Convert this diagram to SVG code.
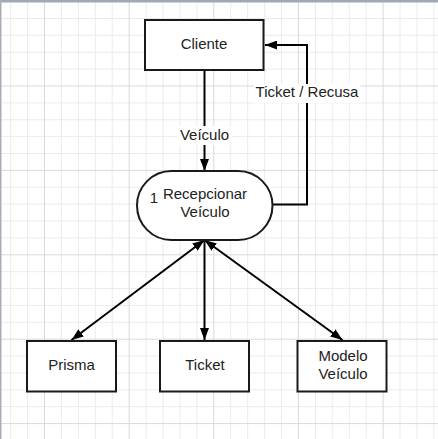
<svg xmlns="http://www.w3.org/2000/svg" width="438" height="439" viewBox="0 0 438 439">
  <style>
    .box { fill: #ffffff; stroke: #1a1a1a; stroke-width: 2; }
    .lbl { font-family: "Liberation Sans", Arial, sans-serif; font-size: 15px; fill: #222222; text-anchor: middle; }
    .edge { fill: none; stroke: #000000; stroke-width: 2; }
    .mn { stroke: #ebebeb; stroke-width: 1; }
    .mj { stroke: #d9d9d9; stroke-width: 1; }
  </style>
  <defs>
    <pattern id="grid" patternUnits="userSpaceOnUse" x="44" y="85.5" width="84.65" height="84.4">
      <line class="mn" x1="17.43" y1="0" x2="17.43" y2="84.4"/>
      <line class="mn" x1="34.36" y1="0" x2="34.36" y2="84.4"/>
      <line class="mn" x1="51.29" y1="0" x2="51.29" y2="84.4"/>
      <line class="mn" x1="68.22" y1="0" x2="68.22" y2="84.4"/>
      <line class="mn" x1="0" y1="17.38" x2="84.65" y2="17.38"/>
      <line class="mn" x1="0" y1="34.26" x2="84.65" y2="34.26"/>
      <line class="mn" x1="0" y1="51.14" x2="84.65" y2="51.14"/>
      <line class="mn" x1="0" y1="68.02" x2="84.65" y2="68.02"/>
      <line class="mj" x1="0.5" y1="0" x2="0.5" y2="84.4"/>
      <line class="mj" x1="0" y1="0.5" x2="84.65" y2="0.5"/>
    </pattern>
    <marker id="arr" viewBox="0 0 12 9" refX="12" refY="4.5" markerWidth="12" markerHeight="9" markerUnits="userSpaceOnUse" orient="auto-start-reverse">
      <path d="M0,0 L12,4.5 L0,9 z" fill="#000000"/>
    </marker>
  </defs>

  <rect x="0" y="0" width="438" height="439" fill="#ffffff"/>
  <rect x="0" y="0" width="438" height="439" fill="url(#grid)"/>
  <rect x="0" y="0" width="438" height="2.5" fill="#a0a8b3"/>
  <rect x="0" y="0" width="1.5" height="439" fill="#a7aeb8"/>

  <g id="connectors">
    <line class="edge" x1="204.5" y1="71" x2="204.5" y2="171" marker-end="url(#arr)"/>
    <rect x="177" y="126" width="55" height="19" fill="#ffffff"/>
    <text class="lbl" x="204.5" y="140">Veículo</text>

    <polyline class="edge" points="273,204.5 307,204.5 307,45 265,45" marker-end="url(#arr)"/>
    <rect x="254" y="84" width="106" height="19" fill="#ffffff"/>
    <text class="lbl" x="307" y="97">Ticket / Recusa</text>

    <line class="edge" x1="204.5" y1="240" x2="71.5" y2="340" marker-start="url(#arr)" marker-end="url(#arr)"/>
    <line class="edge" x1="204.5" y1="240" x2="204.5" y2="340" marker-end="url(#arr)"/>
    <line class="edge" x1="204.5" y1="240" x2="342.5" y2="340" marker-start="url(#arr)" marker-end="url(#arr)"/>
  </g>

  <g id="cliente">
    <rect class="box" x="145" y="20" width="118.5" height="50"/>
    <text class="lbl" x="204" y="49">Cliente</text>
  </g>

  <g id="recepcionar">
    <rect class="box" x="137" y="171" width="135.5" height="69" rx="34.5" ry="34.5"/>
    <text class="lbl" x="154" y="203">1</text>
    <text class="lbl" x="205" y="199">Recepcionar</text>
    <text class="lbl" x="205" y="217">Veículo</text>
  </g>

  <g id="prisma">
    <rect class="box" x="27" y="341" width="89" height="50.5"/>
    <text class="lbl" x="71.5" y="370">Prisma</text>
  </g>

  <g id="ticket">
    <rect class="box" x="160" y="341" width="89" height="50.5"/>
    <text class="lbl" x="205" y="370">Ticket</text>
  </g>

  <g id="modelo">
    <rect class="box" x="297.5" y="341" width="89" height="50.5"/>
    <text class="lbl" x="343" y="361">Modelo</text>
    <text class="lbl" x="343" y="378.5">Veículo</text>
  </g>
</svg>
